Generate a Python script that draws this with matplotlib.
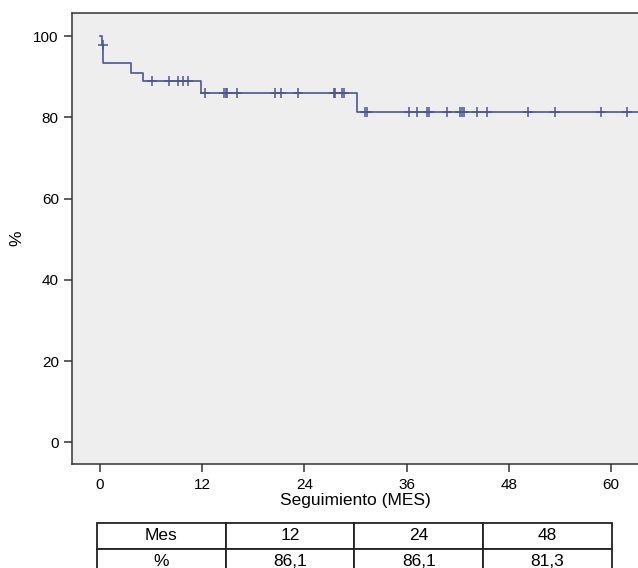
import matplotlib
matplotlib.use("Agg")
import matplotlib.pyplot as plt

plt.rcParams["font.family"] = ["Liberation Sans", "DejaVu Sans"]

# Kaplan-Meier steps (month, survival %)
step_times = [0, 0.2, 0.35, 3.6, 5.1, 11.8, 30.2, 63.5]
step_values = [100, 97.8, 93.3, 91.0, 88.9, 86.1, 81.3, 81.3]

# censored observations (month)
censor_times = [0.3, 6.1, 8.1, 9.1, 9.7, 10.3, 12.3, 14.55, 14.75, 14.95, 16.1,
                20.55, 21.25, 23.3, 27.45, 27.65, 28.4, 28.6, 31.15, 31.35,
                36.3, 37.25, 38.45, 38.65, 40.75, 42.25, 42.5, 42.75, 44.3,
                45.4, 50.2, 53.4, 58.8, 61.85]

table_header = ["Mes", "12", "24", "48"]
table_row = ["%", "86,1", "86,1", "81,3"]

line_color = "#4a5694"


def survival_at(t):
    val = step_values[0]
    for st, sv in zip(step_times, step_values):
        if st <= t:
            val = sv
    return val


fig = plt.figure(figsize=(6.38, 5.68), dpi=100)
ax = fig.add_axes([72 / 638, 1 - 464 / 568, 1 - 72 / 638, (464 - 13) / 568])
ax.set_facecolor("#eeeeee")

ax.step(step_times, step_values, where="post", color=line_color, linewidth=1.2)
ax.plot(censor_times, [survival_at(t) for t in censor_times], linestyle="none",
        marker="+", markersize=7, markeredgewidth=1.1, color=line_color)

ax.set_xlim(-3.29, 63.17)
ax.set_ylim(-5.3, 105.7)
ax.set_xticks([0, 12, 24, 36, 48, 60])
ax.set_yticks([0, 20, 40, 60, 80, 100])
ax.tick_params(direction="out", length=6, width=1.1, labelsize=11, color="#333333")
ax.tick_params(axis="x", pad=4)
for side in ["left", "bottom", "top"]:
    ax.spines[side].set_linewidth(1.1)
    ax.spines[side].set_color("#333333")
ax.spines["right"].set_visible(False)
ax.set_xlabel("Seguimiento (MES)", fontsize=12.5, labelpad=1)
ax.set_ylabel("%", fontsize=12.5)
ax.yaxis.set_label_coords(-0.085, 0.5)

tax = fig.add_axes([96.7 / 638, 1 - 574.7 / 568, (612 - 96.7) / 638, 52 / 568])
tax.axis("off")
tbl = tax.table(cellText=[table_header, table_row], cellLoc="center",
                bbox=[0, 0, 1, 1])
tbl.auto_set_font_size(False)
for cell in tbl.get_celld().values():
    cell.set_fontsize(12.5)
    cell.set_linewidth(1.3)
    cell.set_edgecolor("#222222")

fig.savefig("out.png", dpi=100)
